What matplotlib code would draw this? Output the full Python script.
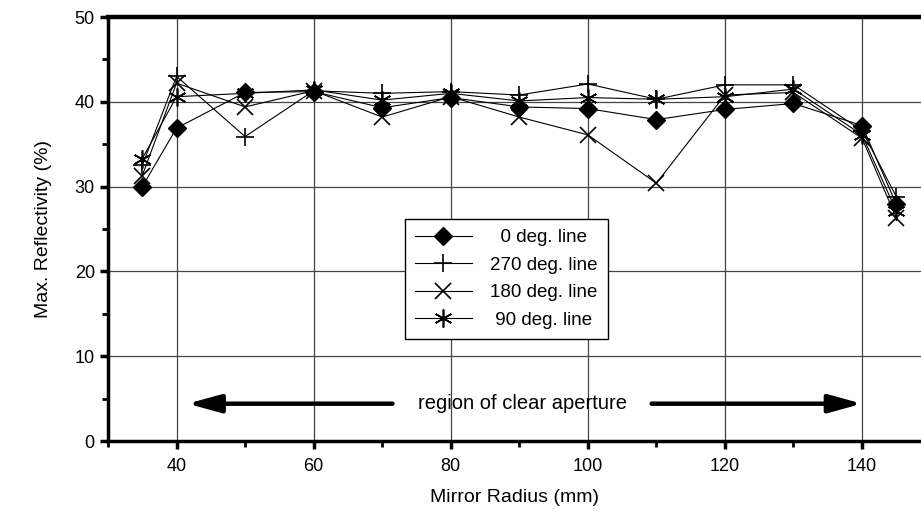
import numpy as np
from matplotlib import pyplot as plt

plt.rcParams['font.family'] = ['Liberation Sans', 'DejaVu Sans']

radius = [35, 40, 50, 60, 70, 80, 90, 100, 110, 120, 130, 140, 145]
deg0 = [30.0, 36.9, 41.1, 41.2, 39.3, 40.5, 39.4, 39.2, 37.9, 39.1, 39.8, 37.2, 27.9]
deg270 = [32.5, 43.0, 35.9, 41.3, 41.0, 41.2, 40.8, 42.1, 40.3, 42.0, 42.0, 36.6, 28.8]
deg180 = [31.3, 42.2, 39.4, 41.3, 38.2, 40.6, 38.2, 36.1, 30.4, 40.8, 41.1, 35.7, 26.3]
deg90 = [33.3, 40.6, 41.0, 41.4, 40.2, 41.0, 40.1, 40.5, 40.3, 40.6, 41.5, 36.1, 27.1]

fig = plt.figure(figsize=(9.21, 5.17), dpi=100)
ax = fig.add_axes([108/921, 76/517, 1 - 108/921, 424/517])

ax.plot(radius, deg0, color='black', lw=0.8, marker='D', ms=9, label='  0 deg. line')
ax.plot(radius, deg270, color='black', lw=0.8, marker='+', ms=13, mew=1.2, label='270 deg. line')
ax.plot(radius, deg180, color='black', lw=0.8, marker='x', ms=11, mew=1.2, label='180 deg. line')
ax.plot(radius, deg90, color='black', lw=0.8, marker=(6, 2, 0), ms=13, mew=1.2, label=' 90 deg. line')

ax.set_xlim(30, 148.6)
ax.set_ylim(0, 50)
ax.set_xticks([40, 60, 80, 100, 120, 140])
ax.set_xticks([30, 50, 70, 90, 110, 130], minor=True)
ax.set_yticks([0, 10, 20, 30, 40, 50])
ax.set_yticks([5, 15, 25, 35, 45], minor=True)
ax.grid(True, which='major', color='#444444', lw=0.9)
ax.set_axisbelow(True)

for s in ['left', 'bottom']:
    ax.spines[s].set_linewidth(2.5)
ax.spines['top'].set_linewidth(3.2)
ax.spines['right'].set_visible(False)
ax.tick_params(which='major', direction='out', length=6, width=2.5, labelsize=13)
ax.tick_params(which='minor', direction='out', length=4, width=2)
ax.tick_params(axis='x', pad=6)

ax.set_xlabel('Mirror Radius (mm)', fontsize=14, labelpad=10)
ax.set_ylabel('Max. Reflectivity (%)', fontsize=14, labelpad=16)

arrow = dict(arrowstyle='-|>,head_length=2.0,head_width=0.55', lw=3.2, color='black',
             shrinkA=0, shrinkB=0, mutation_scale=10)
ax.annotate('', xy=(41.6, 4.4), xytext=(71.5, 4.4), arrowprops=arrow)
ax.annotate('', xy=(140, 4.4), xytext=(109.3, 4.4), arrowprops=arrow)
ax.text(90.5, 4.4, 'region of clear aperture', ha='center', va='center', fontsize=14.5)

leg = ax.legend(loc='upper left', bbox_to_anchor=((405-108)/813, (441-219)/424), fontsize=13.5,
                frameon=True, fancybox=False, edgecolor='black', framealpha=1,
                handlelength=3.0, handletextpad=1.0, labelspacing=0.55, borderpad=0.55,
                borderaxespad=0)
leg.get_frame().set_linewidth(1.0)

plt.savefig('out.png', dpi=100)
